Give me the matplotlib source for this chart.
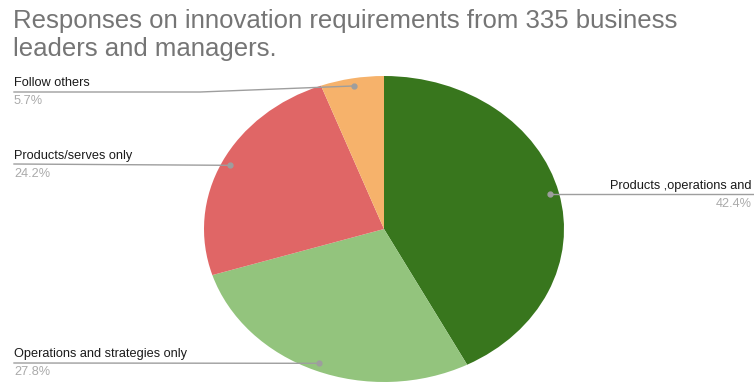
import matplotlib
matplotlib.use("Agg")
import matplotlib.pyplot as plt
import numpy as np

plt.rcParams['font.family'] = ['Liberation Sans', 'DejaVu Sans']

# data
labels = ["Products ,operations and", "Operations and strategies only",
          "Products/serves only", "Follow others"]
values = [42.4, 27.8, 24.2, 5.7]
pcts = ["42.4%", "27.8%", "24.2%", "5.7%"]
colors = ["#38761d", "#93c47d", "#e06666", "#f6b26b"]

W, H = 754, 383
fig = plt.figure(figsize=(W / 100, H / 100), dpi=100)

# pie axes (elliptical pie, like the original)
ax = fig.add_axes([204 / W, 1 / H, 360 / W, 306 / H])
wedges, _ = ax.pie(values, colors=colors, startangle=90, counterclock=False,
                   wedgeprops=dict(linewidth=0))
ax.set_aspect('auto')
ax.set_xlim(-1, 1)
ax.set_ylim(-1, 1)

# overlay in pixel coords for title, labels and leader lines
ov = fig.add_axes([0, 0, 1, 1], facecolor='none')
ov.set_xlim(0, W)
ov.set_ylim(H, 0)
ov.axis('off')

ov.text(13, 35, "Responses on innovation requirements from 335 business\nleaders and managers.",
        fontsize=18.5, color="#757575", va='center', ha='left', linespacing=1.22)

def to_px(x, y):
    px, py = ax.transData.transform((x, y))
    return px, H - py

# label layout: (name x, name y, line end x, line y, side)
layout = [
    (610, 186, 754, 195, 'right'),
    (14, 354, 14, 363, 'left'),
    (14, 156, 14, 164, 'left'),
    (14, 83, 14, 92, 'left'),
]

line_c = "#9e9e9e"
fs = 9.2
for w, lab, pc, (tx, ty, lx, ly, side) in zip(wedges, labels, pcts, layout):
    mid = np.deg2rad((w.theta1 + w.theta2) / 2)
    dx, dy = to_px(0.95 * np.cos(mid), 0.95 * np.sin(mid))
    ov.plot([dx], [dy], 'o', color=line_c, ms=3.5, zorder=5)
    if side == 'right':
        ov.plot([dx, lx], [dy, dy], color=line_c, lw=1)
        ov.text(tx, ty, lab, fontsize=fs, color="#1a1a1a", va='center', ha='left')
        ov.text(752, ty + 18, pc, fontsize=fs, color="#aaaaaa", va='center', ha='right')
    else:
        if abs(dy - ly) > 3:
            bx = 200
            ov.plot([dx, bx, lx], [dy, ly, ly], color=line_c, lw=1)
        else:
            ov.plot([dx, lx], [dy, ly], color=line_c, lw=1)
        ov.text(tx, ty, lab, fontsize=fs, color="#1a1a1a", va='center', ha='left')
        ov.text(tx, ty + 18, pc, fontsize=fs, color="#aaaaaa", va='center', ha='left')

fig.savefig("out.png", dpi=100)
